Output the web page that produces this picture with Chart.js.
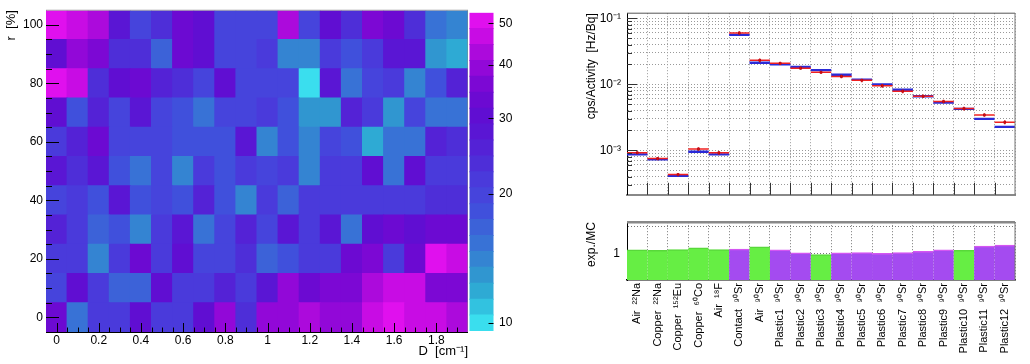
<!DOCTYPE html>
<html><head><meta charset="utf-8">
<script src="https://cdn.jsdelivr.net/npm/chart.js@4.4.1/dist/chart.umd.min.js"></script>
<style>
html,body{margin:0;padding:0;background:#fff;}
body{width:1030px;height:364px;position:relative;overflow:hidden;}
.box{position:absolute;}
</style></head><body>
<div class="box" style="left:0;top:0;width:468px;height:364px"><canvas id="heat"></canvas></div>
<div class="box" style="left:468px;top:0;width:62px;height:364px"><canvas id="cbar"></canvas></div>
<div class="box" style="left:560px;top:0;width:470px;height:208px"><canvas id="top"></canvas></div>
<div class="box" style="left:560px;top:208px;width:470px;height:156px"><canvas id="ratio"></canvas></div>
<script>
// ---------------- data: left heat map ----------------
const dBins = [0,0.1,0.2,0.3,0.4,0.5,0.6,0.7,0.8,0.9,1.0,1.1,1.2,1.3,1.4,1.5,1.6,1.7,1.8,1.9];
const rBins = [0,10,20,30,40,50,60,70,80,90,100];
const zRow100 = [50,47,42,28,20.5,23,33,30,20,20.5,20,42,20,30,23,35,33,23,15,13.5];
const zRow90  = [30,38,37,23,23,16.5,33,30,20,20,21.5,13.5,14,21.5,18,21.5,27,27,13,11.8];
const zRow80  = [50,45,23,30,33,25,23,20,30,20,20,20,10,27,15.3,20,21.5,13.5,18,25];
const zRow70  = [31,18,25,20,28,20,17.5,15,20,19,21.5,18,12.5,12.5,25,21.5,12.8,20,15.5,15.5];
const zRow60  = [22,25,33,20,20,20,18,18,18,29,13.5,18,14,20,18,11.8,15.3,15.3,26,23];
const zRow50  = [29,23,28,18,15.5,20,14.5,22,18,21,20.5,21.5,13.5,21.5,21.5,30,15.3,30,21.5,21.5];
const zRow40  = [20.5,22.5,18,28,18,20,18,26,18,14.5,21.5,16.5,21.5,22.5,21.5,22.5,21.5,21.5,24,24];
const zRow30  = [26,22.5,16,18,13.5,21,28,15.3,20,26,20,29,21.5,29,15.3,30.5,32,30.5,32,32];
const zRow20  = [21,22.5,13.5,22.5,34,21,30,20,20.5,24,16.5,18,21.5,22.5,33,36,21.5,32,50,47];
const zRow10  = [20,30,21,17,17,30.5,21,21,25,22,29,39,32,36,36,43,46,46,36,36];
const zRow0   = [33,15.5,21,21,30.5,22.5,21,30.5,39,24,39,39,42,39,38,48,50,48,46,41];
const zRows = [zRow0,zRow10,zRow20,zRow30,zRow40,zRow50,zRow60,zRow70,zRow80,zRow90,zRow100];
const rHalfBin = 5;
const dTicks = [0,0.2,0.4,0.6,0.8,1.0,1.2,1.4,1.6,1.8];
const dTickLabels = ['0','0.2','0.4','0.6','0.8','1','1.2','1.4','1.6','1.8'];
const rTicks = [0,20,40,60,80,100];
const rTickLabels = ['0','20','40','60','80','100'];
const zMin = 9.57, zMax = 52.9, nContours = 20;
const zTicks = [10,20,30,40,50];
const zTickLabels = ['10','20','30','40','50'];
const palette = ['#3adeee','#32c2e0','#2eaad4','#3096d0','#3484d2','#3872d6','#3c62d8','#4050dc','#4644dc','#4a3adb',
                 '#4e2ed8','#5422d6','#5a16d4','#600ed2','#6c0ad2','#7c08d4','#9208d8','#ac0adc','#c80ce4','#e010ee'];

// ---------------- data: right panels ----------------
const catLabels = ['Air  ²²Na','Copper  ²²Na','Copper  ¹⁵²Eu','Copper  ⁶⁰Co','Air  ¹⁸F','Contact  ⁹⁰Sr','Air  ⁹⁰Sr',
  'Plastic1  ⁹⁰Sr','Plastic2  ⁹⁰Sr','Plastic3  ⁹⁰Sr','Plastic4  ⁹⁰Sr','Plastic5  ⁹⁰Sr','Plastic6  ⁹⁰Sr','Plastic7  ⁹⁰Sr',
  'Plastic8  ⁹⁰Sr','Plastic9  ⁹⁰Sr','Plastic10  ⁹⁰Sr','Plastic11  ⁹⁰Sr','Plastic12  ⁹⁰Sr'];
const mcValues  = [8.7e-4,7.3e-4,4.1e-4,9.5e-4,8.7e-4,0.0562,0.0212,0.0201,0.0183,0.0164,0.0140,0.0118,0.0100,0.00828,0.00659,0.00529,0.00425,0.00300,0.00227];
const expValues = [9.2e-4,7.5e-4,4.3e-4,1.05e-3,9.2e-4,0.0600,0.0231,0.0208,0.0176,0.0152,0.0132,0.0115,0.0095,0.00785,0.00659,0.00550,0.00429,0.00344,0.00267];
const expErrors = [5e-5,4e-5,2.5e-5,6e-5,6e-5,3.5e-3,1.5e-3,1.2e-3,1.0e-3,9e-4,8e-4,7e-4,6e-4,5e-4,4e-4,3.5e-4,2.7e-4,2.2e-4,1.8e-4];
const ratioValues = [1.09,1.08,1.10,1.15,1.10,1.11,1.18,1.09,1.01,0.97,1.01,1.02,1.00,1.02,1.05,1.09,1.08,1.20,1.23];
const ratioGroup  = ['g','g','g','g','g','p','g','p','p','g','p','p','p','p','p','p','g','p','p'];
const yDecades = [1e-4,1e-3,1e-2,1e-1];
const yDecadeLabels = ['10⁻⁴','10⁻³','10⁻²','10⁻¹'];
const yMin = 2.12e-4, yMax = 0.1197;
const ratioTicks = [0.6,0.7,0.8,0.9,1,2];
const ratioTickLabels = ['','','','','1',''];
const ratioMin = 0.51, ratioMax = 2.21;

// ---------------- styling ----------------
const FONT = '"Liberation Sans", Arial, Helvetica, sans-serif';
Chart.defaults.font.family = FONT;
Chart.defaults.color = '#000';
Chart.defaults.animation = false;
Chart.defaults.devicePixelRatio = 1;
const GREEN = '#66ee44', PURPLE = '#a44bf0';

function colorFor(z){
  const t = (Math.log10(z) - Math.log10(zMin)) / (Math.log10(zMax) - Math.log10(zMin));
  let k = Math.floor(t * nContours);
  k = Math.max(0, Math.min(nContours - 1, k));
  return palette[k];
}
function framePlugin(sides){
  return {id:'frame', afterDraw(chart){
    const {ctx, chartArea:a} = chart; ctx.save();
    for (const s of sides){
      ctx.strokeStyle = s.color; ctx.lineWidth = s.width; ctx.beginPath();
      if (s.side==='top'){ctx.moveTo(a.left,a.top);ctx.lineTo(a.right,a.top);}
      if (s.side==='right'){ctx.moveTo(a.right,a.top);ctx.lineTo(a.right,a.bottom);}
      ctx.stroke();
    }
    ctx.restore();
  }};
}

// ---------------- heat map ----------------
const heatDatasets = rBins.map((r,i)=>({
  data: dBins.map((d,j)=>({x:d, y:[r - rHalfBin, r + rHalfBin], z:zRows[i][j]})),
  backgroundColor: ctx => colorFor(ctx.raw.z),
  borderWidth:0, grouped:false, barPercentage:1, categoryPercentage:1, inflateAmount:0.5
}));
const heatTicks = {id:'heatTicks', afterDraw(chart){
  const {ctx, chartArea:a, scales:{x,y}} = chart;
  ctx.save(); ctx.strokeStyle='#000'; ctx.lineWidth=1; ctx.beginPath();
  for (let k=0;k<=38;k++){ const px=Math.round(x.getPixelForValue(k*0.05))+0.5; const len=(k%4===0)?9:4.5;
    ctx.moveTo(px,a.bottom); ctx.lineTo(px,a.bottom-len); }
  for (let k=0;k<=20;k++){ const py=Math.round(y.getPixelForValue(k*5))+0.5; const len=(k%4===0)?13:6;
    ctx.moveTo(a.left,py); ctx.lineTo(a.left+len,py); }
  ctx.stroke(); ctx.restore();
}};
new Chart(document.getElementById('heat'), {
  type:'bar',
  data:{datasets:heatDatasets},
  options:{
    responsive:true, maintainAspectRatio:false,
    layout:{padding:{top:5,right:0,left:0,bottom:0}},
    plugins:{legend:{display:false}, tooltip:{enabled:false}},
    scales:{
      x:{type:'linear', min:-0.05, max:1.95, offset:false,
        grid:{display:false, drawTicks:false, offset:false},
        border:{display:true, color:'#000', width:1},
        afterBuildTicks: s => { s.ticks = dTicks.map(v=>({value:v})); },
        ticks:{font:{size:12}, color:'#000', padding:1, maxRotation:0, autoSkip:false,
          callback:(v,i)=>dTickLabels[i]},
        title:{display:true, text:'D  [cm⁻¹]', align:'end', font:{size:13}, color:'#000', padding:{top:0,bottom:5}},
        afterFit: s => { s.height = 32; }
      },
      y:{type:'linear', min:-5, max:105,
        grid:{display:false, drawTicks:false},
        border:{display:true, color:'#000', width:1},
        afterBuildTicks: s => { s.ticks = rTicks.map(v=>({value:v})); },
        ticks:{font:{size:12}, color:'#000', padding:3, autoSkip:false,
          callback:(v,i)=>rTickLabels[i]},
        title:{display:true, text:'r  [%]', align:'end', font:{size:13}, color:'#000', padding:{top:4,bottom:0}},
        afterFit: s => { s.width = 46; }
      }
    }
  },
  plugins:[heatTicks, framePlugin([{side:'top',color:'#aaa',width:1},{side:'right',color:'#888',width:1}])]
});

// ---------------- colour bar ----------------
const levels = palette.map((c,k)=> zMin*Math.pow(zMax/zMin, k/nContours)).concat([zMax]);
const cbarTicks = {id:'cbarTicks', afterDraw(chart){
  const {ctx, chartArea:a, scales:{y}} = chart;
  ctx.save(); ctx.strokeStyle='#000'; ctx.lineWidth=1; ctx.beginPath();
  zTicks.forEach(v=>{ const py=Math.round(y.getPixelForValue(v))+0.5; ctx.moveTo(a.right,py); ctx.lineTo(a.right-5,py); });
  ctx.stroke(); ctx.restore();
}};
new Chart(document.getElementById('cbar'), {
  type:'bar',
  data:{labels:['z'], datasets: palette.map((c,k)=>({data:[[levels[k], levels[k+1]]], backgroundColor:c,
      borderWidth:0, grouped:false, barPercentage:1, categoryPercentage:1, inflateAmount:0.5}))},
  options:{
    responsive:true, maintainAspectRatio:false,
    layout:{padding:{top:5.5,bottom:33,left:1.5,right:0}},
    plugins:{legend:{display:false}, tooltip:{enabled:false}},
    scales:{
      x:{display:false},
      y:{type:'logarithmic', position:'right', min:zMin, max:zMax,
        grid:{display:false, drawTicks:false}, border:{display:false},
        afterBuildTicks: s => { s.ticks = zTicks.map(v=>({value:v})); },
        ticks:{font:{size:12}, color:'#000', padding:5.5, autoSkip:false, callback:(v,i)=>zTickLabels[i]},
        afterFit: s => { s.width = 36.5; }
      }
    }
  },
  plugins:[cbarTicks]
});

// ---------------- top right: cps/Activity ----------------
const halfBin = ctx => { const a = ctx.chart.chartArea; return a ? (a.right - a.left)/catLabels.length/2 : 10; };
const yAllTicks = [];
yDecades.forEach(d => { for (let m=1;m<=9;m++){ const v=m*d; if (v>=yMin && v<=yMax) yAllTicks.push(v); } });
const errBars = {id:'errBars', afterDatasetsDraw(chart){
  const {ctx, scales:{x,y}} = chart;
  ctx.save(); ctx.strokeStyle='#d01010'; ctx.lineWidth=1.5; ctx.beginPath();
  expValues.forEach((v,i)=>{ const px=x.getPixelForValue(i);
    ctx.moveTo(px, y.getPixelForValue(v+expErrors[i])); ctx.lineTo(px, y.getPixelForValue(v-expErrors[i])); });
  ctx.stroke(); ctx.restore();
}};
const topTicks = {id:'topTicks', afterDraw(chart){
  const {ctx, chartArea:a, scales:{y}} = chart;
  const bw=(a.right-a.left)/catLabels.length;
  ctx.save(); ctx.strokeStyle='#333'; ctx.lineWidth=1; ctx.beginPath();
  for (let k=1;k<catLabels.length;k++){ const px=Math.round(a.left+k*bw)+0.5; ctx.moveTo(px,a.bottom); ctx.lineTo(px,a.bottom-12); }
  yAllTicks.forEach(v=>{ const py=Math.round(y.getPixelForValue(v))+0.5; const len=yDecades.includes(v)?10:5;
    ctx.moveTo(a.left,py); ctx.lineTo(a.left+len,py); });
  ctx.stroke(); ctx.restore();
}};
new Chart(document.getElementById('top'), {
  type:'line',
  data:{labels:catLabels, datasets:[
    {label:'MC', data:mcValues, showLine:false, pointStyle:'line', pointRadius:halfBin, pointHoverRadius:halfBin,
     pointBorderWidth:2.4, pointBorderColor:'#2a2ad8', pointBackgroundColor:'#2a2ad8', order:3},
    {label:'exp', data:expValues, showLine:false, pointStyle:'line', pointRadius:halfBin, pointHoverRadius:halfBin,
     pointBorderWidth:1.5, pointBorderColor:'#f02020', pointBackgroundColor:'#f02020', order:2},
    {label:'exp marker', data:expValues, showLine:false, pointStyle:'rect', pointRadius:1.8, pointHoverRadius:1.8,
     pointBorderWidth:0, pointBackgroundColor:'#a0001a', order:1}
  ]},
  options:{
    responsive:true, maintainAspectRatio:false,
    layout:{padding:{top:6,right:15,left:0,bottom:0}},
    plugins:{legend:{display:false}, tooltip:{enabled:false}},
    scales:{
      x:{type:'category', offset:true,
        grid:{display:true, offset:true, color:'#999', lineWidth:1, drawTicks:false},
        border:{display:true, color:'#888', width:2, dash:[1,2]},
        ticks:{display:false},
        afterFit: s => { s.height = 0; }
      },
      y:{type:'logarithmic', min:yMin, max:yMax,
        grid:{display:true, color:'#999', lineWidth:1, drawTicks:false},
        border:{display:true, color:'#000', width:1, dash:[1,2]},
        afterBuildTicks: s => { s.ticks = yAllTicks.map(v=>({value:v})); },
        ticks:{font:{size:12}, color:'#000', padding:6, autoSkip:false,
          callback:(v)=>{ const k=yDecades.indexOf(v); return k>=0 ? yDecadeLabels[k] : ''; }},
        title:{display:true, text:'cps/Activity  [Hz/Bq]', align:'end', font:{size:12}, color:'#000', padding:{top:24,bottom:0}},
        afterFit: s => { s.width = 67; }
      }
    }
  },
  plugins:[errBars, topTicks, framePlugin([{side:'top',color:'#555',width:1},{side:'right',color:'#777',width:1}])]
});

// ---------------- bottom right: exp./MC ----------------
new Chart(document.getElementById('ratio'), {
  type:'bar',
  data:{labels:catLabels, datasets:[{
    data:ratioValues,
    backgroundColor: ratioGroup.map(g=> g==='g'?GREEN:PURPLE),
    borderColor: ratioGroup.map(g=> g==='g'?'#58d83a':'#d456f2'),
    borderWidth:{top:1.5,left:0,right:0,bottom:0}, borderSkipped:false,
    barPercentage:1, categoryPercentage:1, inflateAmount:0.5
  }]},
  options:{
    responsive:true, maintainAspectRatio:false,
    layout:{padding:{top:2,right:15,left:0,bottom:0}},
    plugins:{legend:{display:false}, tooltip:{enabled:false}},
    scales:{
      x:{type:'category', offset:true, z:1,
        grid:{display:true, offset:true, color:'#777', lineWidth:1, drawTicks:false},
        border:{display:true, color:'#000', width:1.5, dash:[1,2]},
        ticks:{font:{size:11}, color:'#000', padding:3, autoSkip:false, maxRotation:90, minRotation:90},
        afterFit: s => { s.height = 84; }
      },
      y:{type:'logarithmic', min:ratioMin, max:ratioMax, z:1,
        grid:{display:true, color:'#777', lineWidth:1, drawTicks:false},
        border:{display:true, color:'#000', width:1, dash:[1,2]},
        afterBuildTicks: s => { s.ticks = ratioTicks.map(v=>({value:v})); },
        ticks:{font:{size:12}, color:'#000', padding:7, autoSkip:false, callback:(v,i)=>ratioTickLabels[i]},
        title:{display:true, text:'exp./MC', align:'end', font:{size:12}, color:'#000', padding:{top:24,bottom:0}},
        afterFit: s => { s.width = 67; }
      }
    }
  },
  plugins:[framePlugin([{side:'top',color:'#888',width:2.5},{side:'right',color:'#777',width:1}])]
});
</script>
</body></html>
